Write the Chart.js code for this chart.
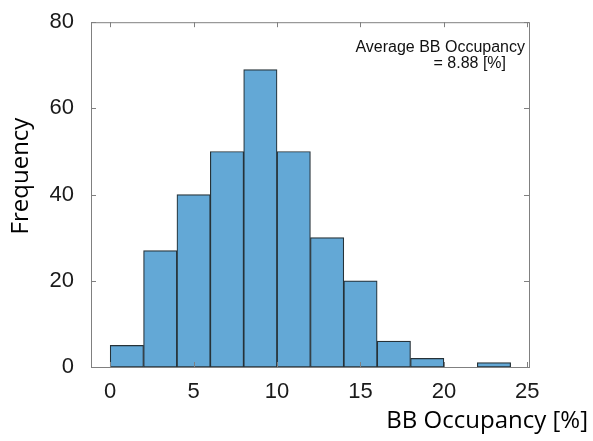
<!DOCTYPE html>
<html>
<head>
<meta charset="utf-8">
<script src="https://cdn.jsdelivr.net/npm/chart.js@4.4.0/dist/chart.umd.min.js"></script>
<style>
  html, body { margin: 0; padding: 0; background: #fff; }
  #wrap { width: 593px; height: 441px; position: relative; }
</style>
</head>
<body>
<div id="wrap"><canvas id="chart" width="593" height="441"></canvas></div>
<script>
// bin centres (bin width 2 %) and counts
const binCenters = [1, 3, 5, 7, 9, 11, 13, 15, 17, 19, 21, 23];
const counts = [5, 27, 40, 50, 69, 50, 30, 20, 6, 2, 0, 1];
const xTicks = [0, 5, 10, 15, 20, 25];
const yTicks = [0, 20, 40, 60, 80];
const xLabel = "BB Occupancy [%]";
const yLabel = "Frequency";
const noteLines = ["Average BB Occupancy", "= 8.88 [%]"];

const axisColor = "#808080";

// рамка, внутренние деления и подписи осей
const framePlugin = {
  id: "frame",
  afterDraw(chart) {
    const ctx = chart.ctx;
    const a = chart.chartArea;
    const xs = chart.scales.x;
    const ys = chart.scales.y;
    ctx.save();
    ctx.strokeStyle = axisColor;
    ctx.lineWidth = 1;
    ctx.strokeRect(a.left + 0.5, a.top + 0.5, a.right - a.left, a.bottom - a.top);
    ctx.beginPath();
    xTicks.forEach((v) => {
      const px = Math.round(xs.getPixelForValue(v)) + 0.5;
      ctx.moveTo(px, a.bottom); ctx.lineTo(px, a.bottom - 5);
      ctx.moveTo(px, a.top); ctx.lineTo(px, a.top + 5);
    });
    yTicks.forEach((v) => {
      const py = Math.round(ys.getPixelForValue(v)) + 0.5;
      ctx.moveTo(a.left, py); ctx.lineTo(a.left + 5, py);
      ctx.moveTo(a.right, py); ctx.lineTo(a.right - 5, py);
    });
    ctx.stroke();

    // подпись в правом верхнем углу
    ctx.fillStyle = "#111";
    ctx.font = "16px 'Liberation Sans', Arial, sans-serif";
    ctx.textAlign = "right";
    ctx.textBaseline = "middle";
    ctx.fillText(noteLines[0], 525, 48);
    ctx.fillText(noteLines[1], 506, 64);

    // названия осей
    ctx.font = "24px 'Open Sans', sans-serif";
    ctx.fillStyle = "#000";
    ctx.textAlign = "right";
    ctx.fillText(xLabel, 588, 421);
    ctx.translate(21, 176);
    ctx.rotate(-Math.PI / 2);
    ctx.textAlign = "center";
    ctx.fillText(yLabel, 0, 0);
    ctx.restore();
  }
};

new Chart(document.getElementById("chart"), {
  type: "bar",
  data: {
    datasets: [{
      data: binCenters.map((c, i) => ({ x: c, y: counts[i] })),
      backgroundColor: "rgb(99,168,214)",
      borderColor: "#263238",
      borderWidth: 1.2,
      barPercentage: 1,
      categoryPercentage: 1,
      borderSkipped: false
    }]
  },
  options: {
    responsive: false,
    animation: false,
    layout: { padding: { left: 0, top: 22, right: 64, bottom: 0 } },
    plugins: { legend: { display: false }, tooltip: { enabled: false } },
    scales: {
      x: {
        type: "linear",
        offset: false,
        min: -1.15,
        max: 25.1,
        grid: { display: false, offset: false },
        border: { display: false },
        afterBuildTicks: (s) => { s.ticks = xTicks.map((v) => ({ value: v })); },
        afterFit: (s) => { s.height = 74; },
        ticks: {
          color: "#1a1a1a",
          padding: 4,
          maxRotation: 0,
          font: { family: "'Liberation Sans', Arial, sans-serif", size: 22 }
        }
      },
      y: {
        min: 0,
        max: 80,
        grid: { display: false },
        border: { display: false },
        afterBuildTicks: (s) => { s.ticks = yTicks.map((v) => ({ value: v })); },
        afterFit: (s) => { s.width = 91; },
        ticks: {
          color: "#1a1a1a",
          padding: 9,
          font: { family: "'Liberation Sans', Arial, sans-serif", size: 22 }
        }
      }
    }
  },
  plugins: [framePlugin]
});
</script>
</body>
</html>
